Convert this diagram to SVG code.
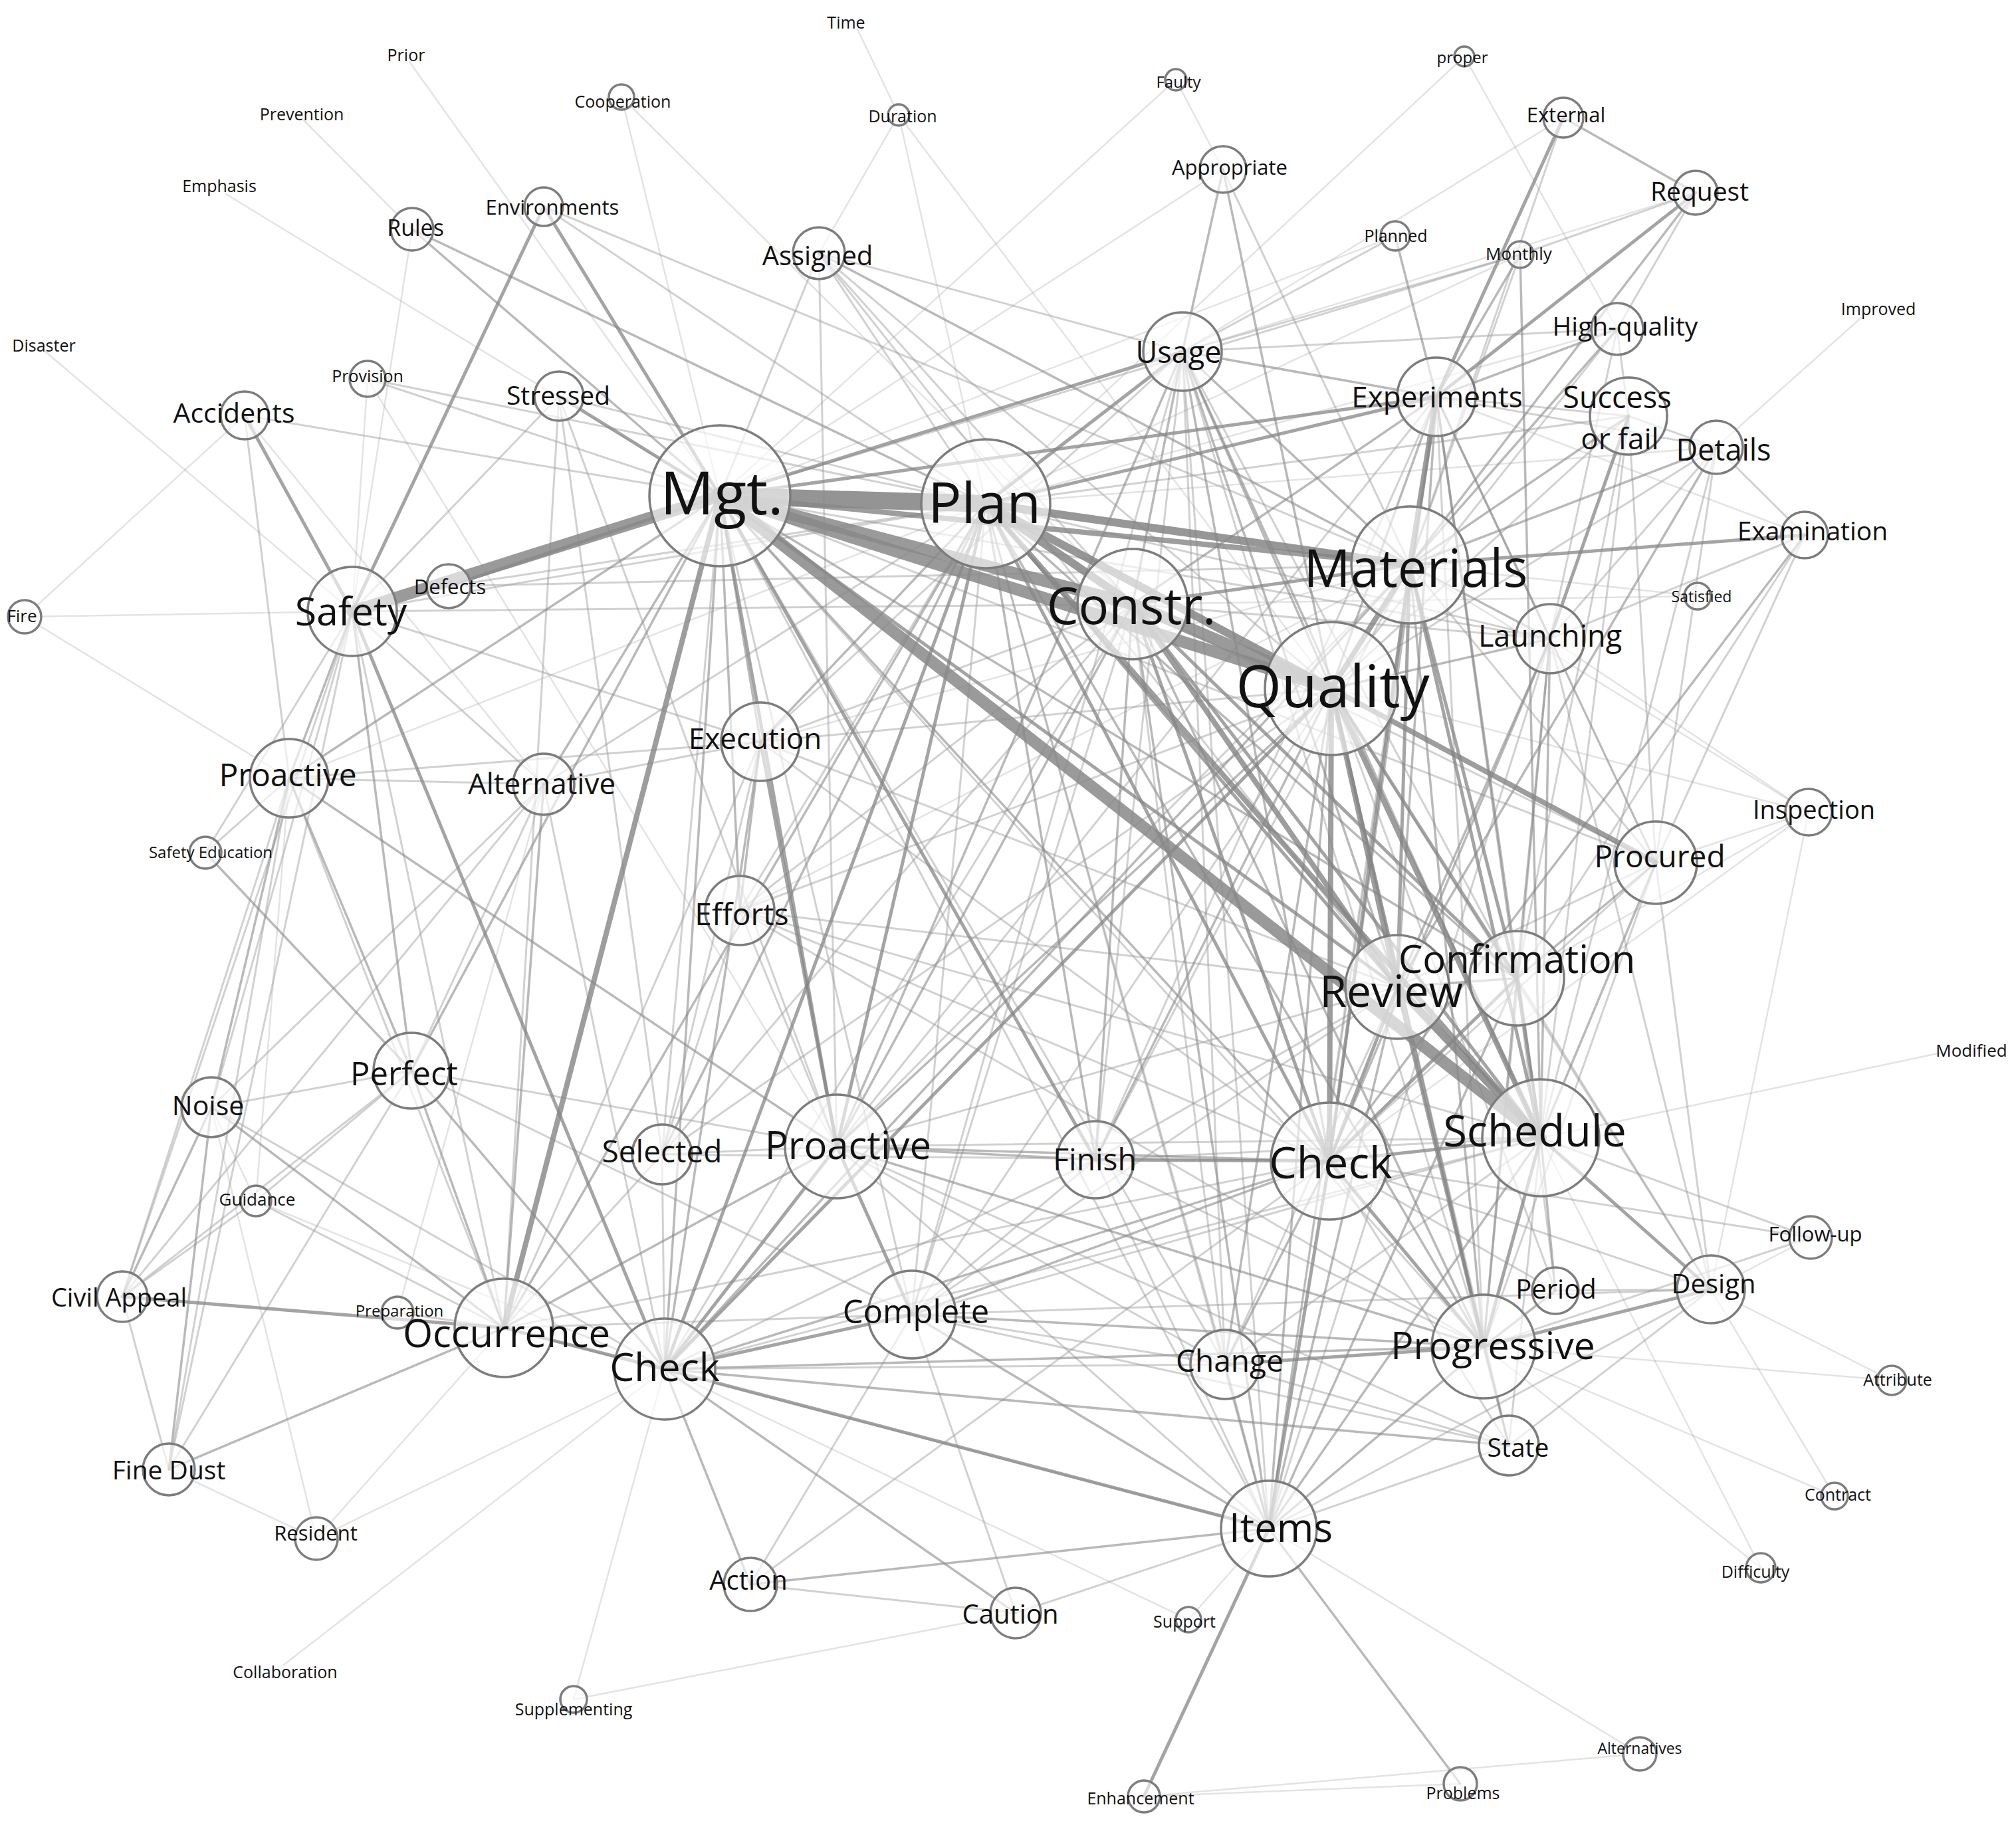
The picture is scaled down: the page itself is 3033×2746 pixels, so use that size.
<svg xmlns="http://www.w3.org/2000/svg" width="3033" height="2746" viewBox="0 0 3033 2746">
<style>
.bg{fill:#fff}
#edges line{stroke-linecap:round}
.c1{stroke:#9a9a9a;stroke-opacity:.28;stroke-width:2.5}
.c2{stroke:#9a9a9a;stroke-opacity:.45;stroke-width:3}
.c3{stroke:#8a8a8a;stroke-opacity:.6;stroke-width:3.5}
.c4{stroke:#858585;stroke-opacity:.75;stroke-width:5}
.c5{stroke:#858585;stroke-opacity:.8;stroke-width:8}
.c6{stroke:#858585;stroke-opacity:.85;stroke-width:12}
.c7{stroke:#888;stroke-opacity:.85;stroke-width:18}
.c8{stroke:#888;stroke-opacity:.9;stroke-width:26}
.node circle{fill:#fff;fill-opacity:.62;stroke:#7d7d7d;stroke-width:3.5}
.node text{font-family:"Open Sans","DejaVu Sans",sans-serif;fill:#111;text-anchor:middle;dominant-baseline:central}
</style>
<rect class="bg" x="0" y="0" width="3033" height="2746"/>
<g id="edges">
<line class="c1" x1="1083" y1="746" x2="935" y2="146"/>
<line class="c1" x1="1083" y1="746" x2="616" y2="93"/>
<line class="c1" x1="1083" y1="746" x2="340" y2="292"/>
<line class="c1" x1="1083" y1="746" x2="1769" y2="120"/>
<line class="c1" x1="1083" y1="746" x2="1840" y2="255"/>
<line class="c1" x1="1083" y1="746" x2="2099" y2="355"/>
<line class="c1" x1="1483" y1="758" x2="1352" y2="173"/>
<line class="c1" x1="1483" y1="758" x2="2203" y2="85"/>
<line class="c1" x1="1483" y1="758" x2="2287" y2="383"/>
<line class="c1" x1="1483" y1="758" x2="2582" y2="673"/>
<line class="c1" x1="1483" y1="758" x2="2433" y2="495"/>
<line class="c1" x1="1483" y1="758" x2="435" y2="1171"/>
<line class="c1" x1="1704" y1="909" x2="935" y2="146"/>
<line class="c1" x1="1704" y1="909" x2="2554" y2="897"/>
<line class="c1" x1="2121" y1="850" x2="2721" y2="1222"/>
<line class="c1" x1="2121" y1="850" x2="1144" y2="1116"/>
<line class="c1" x1="2121" y1="850" x2="1113" y2="1370"/>
<line class="c1" x1="2003" y1="1036" x2="1352" y2="173"/>
<line class="c1" x1="2003" y1="1036" x2="2721" y2="1222"/>
<line class="c1" x1="2282" y1="1472" x2="2721" y2="1222"/>
<line class="c1" x1="2318" y1="1712" x2="2925" y2="1583"/>
<line class="c1" x1="2318" y1="1712" x2="2649" y2="2359"/>
<line class="c1" x1="2000" y1="1747" x2="2721" y2="1222"/>
<line class="c1" x1="1259" y1="1725" x2="553" y2="570"/>
<line class="c1" x1="1000" y1="2060" x2="863" y2="2557"/>
<line class="c1" x1="1000" y1="2060" x2="427" y2="2505"/>
<line class="c1" x1="1000" y1="2060" x2="476" y2="2315"/>
<line class="c1" x1="1000" y1="2060" x2="1788" y2="2437"/>
<line class="c1" x1="1000" y1="2060" x2="385" y2="1807"/>
<line class="c1" x1="758" y1="1998" x2="476" y2="2315"/>
<line class="c1" x1="2232" y1="2026" x2="2846" y2="2077"/>
<line class="c1" x1="2232" y1="2026" x2="2760" y2="2251"/>
<line class="c1" x1="2232" y1="2026" x2="2649" y2="2359"/>
<line class="c1" x1="1909" y1="2300" x2="2467" y2="2639"/>
<line class="c1" x1="1909" y1="2300" x2="1788" y2="2437"/>
<line class="c1" x1="1721" y1="2703" x2="2197" y2="2684"/>
<line class="c1" x1="1721" y1="2703" x2="2467" y2="2639"/>
<line class="c1" x1="1528" y1="2427" x2="863" y2="2557"/>
<line class="c1" x1="2574" y1="1940" x2="2724" y2="1862"/>
<line class="c1" x1="2574" y1="1940" x2="2846" y2="2077"/>
<line class="c1" x1="2574" y1="1940" x2="2760" y2="2251"/>
<line class="c1" x1="2574" y1="1940" x2="2721" y2="1222"/>
<line class="c1" x1="2721" y1="1222" x2="2491" y2="1298"/>
<line class="c1" x1="2721" y1="1222" x2="2332" y2="961"/>
<line class="c1" x1="2554" y1="897" x2="2121" y2="850"/>
<line class="c1" x1="2582" y1="673" x2="2800" y2="478"/>
<line class="c1" x1="2715" y1="805" x2="2161" y2="597"/>
<line class="c1" x1="2433" y1="495" x2="2203" y2="85"/>
<line class="c1" x1="2551" y1="290" x2="1779" y2="529"/>
<line class="c1" x1="2352" y1="177" x2="1779" y2="529"/>
<line class="c1" x1="1840" y1="255" x2="1769" y2="120"/>
<line class="c1" x1="1352" y1="173" x2="1290" y2="44"/>
<line class="c1" x1="1352" y1="173" x2="1232" y2="381"/>
<line class="c1" x1="620" y1="345" x2="530" y2="920"/>
<line class="c1" x1="620" y1="345" x2="457" y2="181"/>
<line class="c1" x1="553" y1="570" x2="530" y2="920"/>
<line class="c1" x1="368" y1="625" x2="37" y2="928"/>
<line class="c1" x1="368" y1="625" x2="818" y2="1180"/>
<line class="c1" x1="68" y1="529" x2="530" y2="920"/>
<line class="c1" x1="37" y1="928" x2="530" y2="920"/>
<line class="c1" x1="37" y1="928" x2="435" y2="1171"/>
<line class="c1" x1="435" y1="1171" x2="385" y2="1807"/>
<line class="c1" x1="818" y1="1180" x2="598" y2="1975"/>
<line class="c1" x1="318" y1="1666" x2="476" y2="2315"/>
<line class="c1" x1="318" y1="1666" x2="385" y2="1807"/>
<line class="c1" x1="254" y1="2211" x2="476" y2="2315"/>
<line class="c2" x1="1083" y1="746" x2="996" y2="1737"/>
<line class="c2" x1="1083" y1="746" x2="1232" y2="381"/>
<line class="c2" x1="1083" y1="746" x2="2287" y2="383"/>
<line class="c2" x1="1083" y1="746" x2="553" y2="570"/>
<line class="c2" x1="1083" y1="746" x2="368" y2="625"/>
<line class="c2" x1="1083" y1="746" x2="2232" y2="2026"/>
<line class="c2" x1="1083" y1="746" x2="1909" y2="2300"/>
<line class="c2" x1="1083" y1="746" x2="1372" y2="1978"/>
<line class="c2" x1="1083" y1="746" x2="1843" y2="2053"/>
<line class="c2" x1="1083" y1="746" x2="2332" y2="961"/>
<line class="c2" x1="1083" y1="746" x2="2491" y2="1298"/>
<line class="c2" x1="1483" y1="758" x2="1113" y2="1370"/>
<line class="c2" x1="1483" y1="758" x2="1232" y2="381"/>
<line class="c2" x1="1483" y1="758" x2="841" y2="596"/>
<line class="c2" x1="1483" y1="758" x2="818" y2="311"/>
<line class="c2" x1="1483" y1="758" x2="1909" y2="2300"/>
<line class="c2" x1="1483" y1="758" x2="1372" y2="1978"/>
<line class="c2" x1="1483" y1="758" x2="2332" y2="961"/>
<line class="c2" x1="1483" y1="758" x2="2450" y2="626"/>
<line class="c2" x1="1483" y1="758" x2="530" y2="920"/>
<line class="c2" x1="1483" y1="758" x2="818" y2="1180"/>
<line class="c2" x1="1483" y1="758" x2="1843" y2="2053"/>
<line class="c2" x1="1483" y1="758" x2="553" y2="570"/>
<line class="c2" x1="1704" y1="909" x2="996" y2="1737"/>
<line class="c2" x1="1704" y1="909" x2="1000" y2="2060"/>
<line class="c2" x1="1704" y1="909" x2="1843" y2="2053"/>
<line class="c2" x1="1704" y1="909" x2="1372" y2="1978"/>
<line class="c2" x1="1704" y1="909" x2="2332" y2="961"/>
<line class="c2" x1="1704" y1="909" x2="2491" y2="1298"/>
<line class="c2" x1="1704" y1="909" x2="530" y2="920"/>
<line class="c2" x1="1704" y1="909" x2="1144" y2="1116"/>
<line class="c2" x1="1704" y1="909" x2="1113" y2="1370"/>
<line class="c2" x1="1704" y1="909" x2="1232" y2="381"/>
<line class="c2" x1="2121" y1="850" x2="2352" y2="177"/>
<line class="c2" x1="2121" y1="850" x2="1840" y2="255"/>
<line class="c2" x1="2121" y1="850" x2="2491" y2="1298"/>
<line class="c2" x1="2121" y1="850" x2="1909" y2="2300"/>
<line class="c2" x1="2121" y1="850" x2="1648" y2="1745"/>
<line class="c2" x1="2121" y1="850" x2="1259" y2="1725"/>
<line class="c2" x1="2121" y1="850" x2="2287" y2="383"/>
<line class="c2" x1="2003" y1="1036" x2="1372" y2="1978"/>
<line class="c2" x1="2003" y1="1036" x2="2433" y2="495"/>
<line class="c2" x1="2003" y1="1036" x2="2450" y2="626"/>
<line class="c2" x1="2003" y1="1036" x2="2582" y2="673"/>
<line class="c2" x1="2003" y1="1036" x2="1113" y2="1370"/>
<line class="c2" x1="2003" y1="1036" x2="1144" y2="1116"/>
<line class="c2" x1="2003" y1="1036" x2="996" y2="1737"/>
<line class="c2" x1="2003" y1="1036" x2="2574" y2="1940"/>
<line class="c2" x1="2003" y1="1036" x2="2270" y2="2175"/>
<line class="c2" x1="2003" y1="1036" x2="2340" y2="1942"/>
<line class="c2" x1="2102" y1="1485" x2="2491" y2="1298"/>
<line class="c2" x1="2102" y1="1485" x2="1648" y2="1745"/>
<line class="c2" x1="2102" y1="1485" x2="1259" y2="1725"/>
<line class="c2" x1="2102" y1="1485" x2="1144" y2="1116"/>
<line class="c2" x1="2102" y1="1485" x2="1113" y2="1370"/>
<line class="c2" x1="2102" y1="1485" x2="1843" y2="2053"/>
<line class="c2" x1="2102" y1="1485" x2="2270" y2="2175"/>
<line class="c2" x1="2102" y1="1485" x2="1372" y2="1978"/>
<line class="c2" x1="2282" y1="1472" x2="2450" y2="626"/>
<line class="c2" x1="2282" y1="1472" x2="2574" y2="1940"/>
<line class="c2" x1="2282" y1="1472" x2="2340" y2="1942"/>
<line class="c2" x1="2282" y1="1472" x2="1779" y2="529"/>
<line class="c2" x1="2282" y1="1472" x2="2715" y2="805"/>
<line class="c2" x1="2318" y1="1712" x2="2724" y2="1862"/>
<line class="c2" x1="2318" y1="1712" x2="2450" y2="626"/>
<line class="c2" x1="2318" y1="1712" x2="2270" y2="2175"/>
<line class="c2" x1="2318" y1="1712" x2="1648" y2="1745"/>
<line class="c2" x1="2318" y1="1712" x2="1259" y2="1725"/>
<line class="c2" x1="2318" y1="1712" x2="1372" y2="1978"/>
<line class="c2" x1="2318" y1="1712" x2="1843" y2="2053"/>
<line class="c2" x1="2318" y1="1712" x2="1000" y2="2060"/>
<line class="c2" x1="2318" y1="1712" x2="2582" y2="673"/>
<line class="c2" x1="2000" y1="1747" x2="2574" y2="1940"/>
<line class="c2" x1="2000" y1="1747" x2="2724" y2="1862"/>
<line class="c2" x1="2000" y1="1747" x2="2270" y2="2175"/>
<line class="c2" x1="2000" y1="1747" x2="2340" y2="1942"/>
<line class="c2" x1="2000" y1="1747" x2="2491" y2="1298"/>
<line class="c2" x1="2000" y1="1747" x2="996" y2="1737"/>
<line class="c2" x1="2000" y1="1747" x2="758" y2="1998"/>
<line class="c2" x1="2000" y1="1747" x2="1144" y2="1116"/>
<line class="c2" x1="2000" y1="1747" x2="1129" y2="2384"/>
<line class="c2" x1="1648" y1="1745" x2="1779" y2="529"/>
<line class="c2" x1="1648" y1="1745" x2="2161" y2="597"/>
<line class="c2" x1="1648" y1="1745" x2="1000" y2="2060"/>
<line class="c2" x1="1648" y1="1745" x2="1372" y2="1978"/>
<line class="c2" x1="1648" y1="1745" x2="1909" y2="2300"/>
<line class="c2" x1="1648" y1="1745" x2="2232" y2="2026"/>
<line class="c2" x1="1259" y1="1725" x2="996" y2="1737"/>
<line class="c2" x1="1259" y1="1725" x2="1113" y2="1370"/>
<line class="c2" x1="1259" y1="1725" x2="1909" y2="2300"/>
<line class="c2" x1="1259" y1="1725" x2="2161" y2="597"/>
<line class="c2" x1="1259" y1="1725" x2="841" y2="596"/>
<line class="c2" x1="1259" y1="1725" x2="1232" y2="381"/>
<line class="c2" x1="1259" y1="1725" x2="1843" y2="2053"/>
<line class="c2" x1="1259" y1="1725" x2="2270" y2="2175"/>
<line class="c2" x1="1259" y1="1725" x2="619" y2="1611"/>
<line class="c2" x1="1372" y1="1978" x2="1843" y2="2053"/>
<line class="c2" x1="1372" y1="1978" x2="2270" y2="2175"/>
<line class="c2" x1="1372" y1="1978" x2="1528" y2="2427"/>
<line class="c2" x1="1372" y1="1978" x2="1129" y2="2384"/>
<line class="c2" x1="1372" y1="1978" x2="758" y2="1998"/>
<line class="c2" x1="1372" y1="1978" x2="1779" y2="529"/>
<line class="c2" x1="1372" y1="1978" x2="2574" y2="1940"/>
<line class="c2" x1="1372" y1="1978" x2="619" y2="1611"/>
<line class="c2" x1="1000" y1="2060" x2="818" y2="1180"/>
<line class="c2" x1="1000" y1="2060" x2="996" y2="1737"/>
<line class="c2" x1="1000" y1="2060" x2="1843" y2="2053"/>
<line class="c2" x1="1000" y1="2060" x2="318" y2="1666"/>
<line class="c2" x1="758" y1="1998" x2="598" y2="1975"/>
<line class="c2" x1="758" y1="1998" x2="841" y2="596"/>
<line class="c2" x1="758" y1="1998" x2="530" y2="920"/>
<line class="c2" x1="758" y1="1998" x2="435" y2="1171"/>
<line class="c2" x1="758" y1="1998" x2="385" y2="1807"/>
<line class="c2" x1="758" y1="1998" x2="1144" y2="1116"/>
<line class="c2" x1="758" y1="1998" x2="996" y2="1737"/>
<line class="c2" x1="758" y1="1998" x2="1909" y2="2300"/>
<line class="c2" x1="1843" y1="2053" x2="1779" y2="529"/>
<line class="c2" x1="1843" y1="2053" x2="2270" y2="2175"/>
<line class="c2" x1="2232" y1="2026" x2="2724" y2="1862"/>
<line class="c2" x1="2232" y1="2026" x2="2491" y2="1298"/>
<line class="c2" x1="2232" y1="2026" x2="2332" y2="961"/>
<line class="c2" x1="2232" y1="2026" x2="2161" y2="597"/>
<line class="c2" x1="2232" y1="2026" x2="1779" y2="529"/>
<line class="c2" x1="1909" y1="2300" x2="2270" y2="2175"/>
<line class="c2" x1="1909" y1="2300" x2="1528" y2="2427"/>
<line class="c2" x1="1909" y1="2300" x2="2574" y2="1940"/>
<line class="c2" x1="1909" y1="2300" x2="1779" y2="529"/>
<line class="c2" x1="1909" y1="2300" x2="2161" y2="597"/>
<line class="c2" x1="1909" y1="2300" x2="2332" y2="961"/>
<line class="c2" x1="1528" y1="2427" x2="1129" y2="2384"/>
<line class="c2" x1="2574" y1="1940" x2="2340" y2="1942"/>
<line class="c2" x1="2574" y1="1940" x2="2270" y2="2175"/>
<line class="c2" x1="2574" y1="1940" x2="2332" y2="961"/>
<line class="c2" x1="2574" y1="1940" x2="2491" y2="1298"/>
<line class="c2" x1="2491" y1="1298" x2="2332" y2="961"/>
<line class="c2" x1="2491" y1="1298" x2="2450" y2="626"/>
<line class="c2" x1="2491" y1="1298" x2="2582" y2="673"/>
<line class="c2" x1="2491" y1="1298" x2="2715" y2="805"/>
<line class="c2" x1="2491" y1="1298" x2="2161" y2="597"/>
<line class="c2" x1="2332" y1="961" x2="2715" y2="805"/>
<line class="c2" x1="2332" y1="961" x2="2582" y2="673"/>
<line class="c2" x1="2332" y1="961" x2="2433" y2="495"/>
<line class="c2" x1="2715" y1="805" x2="2582" y2="673"/>
<line class="c2" x1="2582" y1="673" x2="2161" y2="597"/>
<line class="c2" x1="2582" y1="673" x2="2450" y2="626"/>
<line class="c2" x1="2450" y1="626" x2="2161" y2="597"/>
<line class="c2" x1="2450" y1="626" x2="2433" y2="495"/>
<line class="c2" x1="2433" y1="495" x2="2551" y2="290"/>
<line class="c2" x1="2433" y1="495" x2="1779" y2="529"/>
<line class="c2" x1="2551" y1="290" x2="2287" y2="383"/>
<line class="c2" x1="2287" y1="383" x2="1779" y2="529"/>
<line class="c2" x1="2099" y1="355" x2="1779" y2="529"/>
<line class="c2" x1="1779" y1="529" x2="1232" y2="381"/>
<line class="c2" x1="1232" y1="381" x2="2003" y2="1036"/>
<line class="c2" x1="1232" y1="381" x2="2102" y2="1485"/>
<line class="c2" x1="818" y1="311" x2="2121" y2="850"/>
<line class="c2" x1="841" y1="596" x2="996" y2="1737"/>
<line class="c2" x1="841" y1="596" x2="530" y2="920"/>
<line class="c2" x1="368" y1="625" x2="435" y2="1171"/>
<line class="c2" x1="530" y1="920" x2="318" y2="1666"/>
<line class="c2" x1="530" y1="920" x2="184" y2="1951"/>
<line class="c2" x1="530" y1="920" x2="254" y2="2211"/>
<line class="c2" x1="530" y1="920" x2="309" y2="1283"/>
<line class="c2" x1="530" y1="920" x2="1144" y2="1116"/>
<line class="c2" x1="530" y1="920" x2="818" y2="1180"/>
<line class="c2" x1="675" y1="882" x2="2121" y2="850"/>
<line class="c2" x1="675" y1="882" x2="1483" y2="758"/>
<line class="c2" x1="435" y1="1171" x2="184" y2="1951"/>
<line class="c2" x1="435" y1="1171" x2="254" y2="2211"/>
<line class="c2" x1="435" y1="1171" x2="309" y2="1283"/>
<line class="c2" x1="435" y1="1171" x2="818" y2="1180"/>
<line class="c2" x1="435" y1="1171" x2="1144" y2="1116"/>
<line class="c2" x1="818" y1="1180" x2="619" y2="1611"/>
<line class="c2" x1="818" y1="1180" x2="1144" y2="1116"/>
<line class="c2" x1="818" y1="1180" x2="318" y2="1666"/>
<line class="c2" x1="818" y1="1180" x2="184" y2="1951"/>
<line class="c2" x1="1144" y1="1116" x2="1779" y2="529"/>
<line class="c2" x1="1144" y1="1116" x2="996" y2="1737"/>
<line class="c2" x1="1113" y1="1370" x2="996" y2="1737"/>
<line class="c2" x1="1113" y1="1370" x2="2318" y2="1712"/>
<line class="c2" x1="1113" y1="1370" x2="2000" y2="1747"/>
<line class="c2" x1="1113" y1="1370" x2="2232" y2="2026"/>
<line class="c2" x1="619" y1="1611" x2="318" y2="1666"/>
<line class="c2" x1="619" y1="1611" x2="385" y2="1807"/>
<line class="c2" x1="619" y1="1611" x2="254" y2="2211"/>
<line class="c2" x1="619" y1="1611" x2="184" y2="1951"/>
<line class="c2" x1="184" y1="1951" x2="254" y2="2211"/>
<line class="c2" x1="184" y1="1951" x2="385" y2="1807"/>
<line class="c3" x1="1083" y1="746" x2="1000" y2="2060"/>
<line class="c3" x1="1083" y1="746" x2="1144" y2="1116"/>
<line class="c3" x1="1083" y1="746" x2="1113" y2="1370"/>
<line class="c3" x1="1083" y1="746" x2="818" y2="1180"/>
<line class="c3" x1="1083" y1="746" x2="435" y2="1171"/>
<line class="c3" x1="1083" y1="746" x2="620" y2="345"/>
<line class="c3" x1="1083" y1="746" x2="2000" y2="1747"/>
<line class="c3" x1="1083" y1="746" x2="2282" y2="1472"/>
<line class="c3" x1="1083" y1="746" x2="619" y2="1611"/>
<line class="c3" x1="1483" y1="758" x2="2282" y2="1472"/>
<line class="c3" x1="1483" y1="758" x2="996" y2="1737"/>
<line class="c3" x1="1483" y1="758" x2="758" y2="1998"/>
<line class="c3" x1="1483" y1="758" x2="1648" y2="1745"/>
<line class="c3" x1="1483" y1="758" x2="1144" y2="1116"/>
<line class="c3" x1="1483" y1="758" x2="2232" y2="2026"/>
<line class="c3" x1="1483" y1="758" x2="620" y2="345"/>
<line class="c3" x1="1704" y1="909" x2="2232" y2="2026"/>
<line class="c3" x1="1704" y1="909" x2="1648" y2="1745"/>
<line class="c3" x1="1704" y1="909" x2="1909" y2="2300"/>
<line class="c3" x1="1704" y1="909" x2="1779" y2="529"/>
<line class="c3" x1="1704" y1="909" x2="2161" y2="597"/>
<line class="c3" x1="1704" y1="909" x2="1259" y2="1725"/>
<line class="c3" x1="2121" y1="850" x2="2232" y2="2026"/>
<line class="c3" x1="2121" y1="850" x2="1779" y2="529"/>
<line class="c3" x1="2121" y1="850" x2="2332" y2="961"/>
<line class="c3" x1="2121" y1="850" x2="2582" y2="673"/>
<line class="c3" x1="2121" y1="850" x2="2450" y2="626"/>
<line class="c3" x1="2121" y1="850" x2="2433" y2="495"/>
<line class="c3" x1="2121" y1="850" x2="2551" y2="290"/>
<line class="c3" x1="2003" y1="1036" x2="1909" y2="2300"/>
<line class="c3" x1="2003" y1="1036" x2="1843" y2="2053"/>
<line class="c3" x1="2003" y1="1036" x2="1648" y2="1745"/>
<line class="c3" x1="2003" y1="1036" x2="1259" y2="1725"/>
<line class="c3" x1="2003" y1="1036" x2="2332" y2="961"/>
<line class="c3" x1="2003" y1="1036" x2="1840" y2="255"/>
<line class="c3" x1="2003" y1="1036" x2="1779" y2="529"/>
<line class="c3" x1="2003" y1="1036" x2="2161" y2="597"/>
<line class="c3" x1="2102" y1="1485" x2="2282" y2="1472"/>
<line class="c3" x1="2102" y1="1485" x2="1909" y2="2300"/>
<line class="c3" x1="2102" y1="1485" x2="2582" y2="673"/>
<line class="c3" x1="2102" y1="1485" x2="1779" y2="529"/>
<line class="c3" x1="2102" y1="1485" x2="2161" y2="597"/>
<line class="c3" x1="2102" y1="1485" x2="2332" y2="961"/>
<line class="c3" x1="2282" y1="1472" x2="2232" y2="2026"/>
<line class="c3" x1="2282" y1="1472" x2="1909" y2="2300"/>
<line class="c3" x1="2282" y1="1472" x2="2332" y2="961"/>
<line class="c3" x1="2282" y1="1472" x2="2491" y2="1298"/>
<line class="c3" x1="2282" y1="1472" x2="2161" y2="597"/>
<line class="c3" x1="2318" y1="1712" x2="2340" y2="1942"/>
<line class="c3" x1="2318" y1="1712" x2="1909" y2="2300"/>
<line class="c3" x1="2318" y1="1712" x2="2332" y2="961"/>
<line class="c3" x1="2318" y1="1712" x2="2491" y2="1298"/>
<line class="c3" x1="2318" y1="1712" x2="2161" y2="597"/>
<line class="c3" x1="2318" y1="1712" x2="2287" y2="383"/>
<line class="c3" x1="2318" y1="1712" x2="1779" y2="529"/>
<line class="c3" x1="2000" y1="1747" x2="1259" y2="1725"/>
<line class="c3" x1="2000" y1="1747" x2="1372" y2="1978"/>
<line class="c3" x1="2000" y1="1747" x2="1000" y2="2060"/>
<line class="c3" x1="2000" y1="1747" x2="1843" y2="2053"/>
<line class="c3" x1="2000" y1="1747" x2="2332" y2="961"/>
<line class="c3" x1="2000" y1="1747" x2="2715" y2="805"/>
<line class="c3" x1="2000" y1="1747" x2="1779" y2="529"/>
<line class="c3" x1="2000" y1="1747" x2="2161" y2="597"/>
<line class="c3" x1="1648" y1="1745" x2="1259" y2="1725"/>
<line class="c3" x1="1259" y1="1725" x2="435" y2="1171"/>
<line class="c3" x1="1259" y1="1725" x2="2232" y2="2026"/>
<line class="c3" x1="1259" y1="1725" x2="758" y2="1998"/>
<line class="c3" x1="1259" y1="1725" x2="1779" y2="529"/>
<line class="c3" x1="1372" y1="1978" x2="2232" y2="2026"/>
<line class="c3" x1="1372" y1="1978" x2="1909" y2="2300"/>
<line class="c3" x1="1000" y1="2060" x2="2270" y2="2175"/>
<line class="c3" x1="1000" y1="2060" x2="2232" y2="2026"/>
<line class="c3" x1="1000" y1="2060" x2="1129" y2="2384"/>
<line class="c3" x1="1000" y1="2060" x2="1528" y2="2427"/>
<line class="c3" x1="1000" y1="2060" x2="619" y2="1611"/>
<line class="c3" x1="1000" y1="2060" x2="1144" y2="1116"/>
<line class="c3" x1="1000" y1="2060" x2="2121" y2="850"/>
<line class="c3" x1="758" y1="1998" x2="318" y2="1666"/>
<line class="c3" x1="758" y1="1998" x2="619" y2="1611"/>
<line class="c3" x1="758" y1="1998" x2="818" y2="1180"/>
<line class="c3" x1="758" y1="1998" x2="254" y2="2211"/>
<line class="c3" x1="1843" y1="2053" x2="1909" y2="2300"/>
<line class="c3" x1="2232" y1="2026" x2="2270" y2="2175"/>
<line class="c3" x1="2232" y1="2026" x2="1909" y2="2300"/>
<line class="c3" x1="2232" y1="2026" x2="2340" y2="1942"/>
<line class="c3" x1="1909" y1="2300" x2="2197" y2="2684"/>
<line class="c3" x1="1909" y1="2300" x2="1129" y2="2384"/>
<line class="c3" x1="2332" y1="961" x2="2161" y2="597"/>
<line class="c3" x1="2433" y1="495" x2="2161" y2="597"/>
<line class="c3" x1="2161" y1="597" x2="2099" y2="355"/>
<line class="c3" x1="2161" y1="597" x2="2287" y2="383"/>
<line class="c3" x1="2161" y1="597" x2="1779" y2="529"/>
<line class="c3" x1="2551" y1="290" x2="2352" y2="177"/>
<line class="c3" x1="1779" y1="529" x2="1840" y2="255"/>
<line class="c3" x1="1232" y1="381" x2="2121" y2="850"/>
<line class="c3" x1="530" y1="920" x2="435" y2="1171"/>
<line class="c3" x1="530" y1="920" x2="619" y2="1611"/>
<line class="c3" x1="435" y1="1171" x2="619" y2="1611"/>
<line class="c3" x1="435" y1="1171" x2="318" y2="1666"/>
<line class="c3" x1="309" y1="1283" x2="619" y2="1611"/>
<line class="c3" x1="1144" y1="1116" x2="1113" y2="1370"/>
<line class="c3" x1="318" y1="1666" x2="254" y2="2211"/>
<line class="c3" x1="318" y1="1666" x2="184" y2="1951"/>
<line class="c4" x1="1083" y1="746" x2="2102" y2="1485"/>
<line class="c4" x1="1083" y1="746" x2="675" y2="882"/>
<line class="c4" x1="1083" y1="746" x2="1259" y2="1725"/>
<line class="c4" x1="1083" y1="746" x2="1648" y2="1745"/>
<line class="c4" x1="1083" y1="746" x2="841" y2="596"/>
<line class="c4" x1="1083" y1="746" x2="818" y2="311"/>
<line class="c4" x1="1083" y1="746" x2="1779" y2="529"/>
<line class="c4" x1="1083" y1="746" x2="2161" y2="597"/>
<line class="c4" x1="1483" y1="758" x2="1779" y2="529"/>
<line class="c4" x1="1483" y1="758" x2="2161" y2="597"/>
<line class="c4" x1="1483" y1="758" x2="2102" y2="1485"/>
<line class="c4" x1="1483" y1="758" x2="2000" y2="1747"/>
<line class="c4" x1="1483" y1="758" x2="1000" y2="2060"/>
<line class="c4" x1="1483" y1="758" x2="1259" y2="1725"/>
<line class="c4" x1="1704" y1="909" x2="2121" y2="850"/>
<line class="c4" x1="1704" y1="909" x2="2318" y2="1712"/>
<line class="c4" x1="1704" y1="909" x2="2000" y2="1747"/>
<line class="c4" x1="1704" y1="909" x2="2282" y2="1472"/>
<line class="c4" x1="2121" y1="850" x2="2000" y2="1747"/>
<line class="c4" x1="2121" y1="850" x2="2318" y2="1712"/>
<line class="c4" x1="2121" y1="850" x2="2282" y2="1472"/>
<line class="c4" x1="2121" y1="850" x2="2102" y2="1485"/>
<line class="c4" x1="2121" y1="850" x2="2715" y2="805"/>
<line class="c4" x1="2003" y1="1036" x2="2282" y2="1472"/>
<line class="c4" x1="2003" y1="1036" x2="2232" y2="2026"/>
<line class="c4" x1="2003" y1="1036" x2="1000" y2="2060"/>
<line class="c4" x1="2102" y1="1485" x2="2000" y2="1747"/>
<line class="c4" x1="2102" y1="1485" x2="2232" y2="2026"/>
<line class="c4" x1="2282" y1="1472" x2="2318" y2="1712"/>
<line class="c4" x1="2282" y1="1472" x2="2000" y2="1747"/>
<line class="c4" x1="2318" y1="1712" x2="2000" y2="1747"/>
<line class="c4" x1="2318" y1="1712" x2="2232" y2="2026"/>
<line class="c4" x1="2318" y1="1712" x2="2574" y2="1940"/>
<line class="c4" x1="2000" y1="1747" x2="1648" y2="1745"/>
<line class="c4" x1="2000" y1="1747" x2="1909" y2="2300"/>
<line class="c4" x1="2000" y1="1747" x2="2232" y2="2026"/>
<line class="c4" x1="1259" y1="1725" x2="1372" y2="1978"/>
<line class="c4" x1="1259" y1="1725" x2="1000" y2="2060"/>
<line class="c4" x1="1259" y1="1725" x2="1144" y2="1116"/>
<line class="c4" x1="1372" y1="1978" x2="1000" y2="2060"/>
<line class="c4" x1="1000" y1="2060" x2="758" y2="1998"/>
<line class="c4" x1="1000" y1="2060" x2="1909" y2="2300"/>
<line class="c4" x1="1000" y1="2060" x2="530" y2="920"/>
<line class="c4" x1="758" y1="1998" x2="184" y2="1951"/>
<line class="c4" x1="1843" y1="2053" x2="2232" y2="2026"/>
<line class="c4" x1="2232" y1="2026" x2="2574" y2="1940"/>
<line class="c4" x1="1909" y1="2300" x2="1721" y2="2703"/>
<line class="c4" x1="2332" y1="961" x2="2450" y2="626"/>
<line class="c4" x1="2161" y1="597" x2="2352" y2="177"/>
<line class="c4" x1="2161" y1="597" x2="2551" y2="290"/>
<line class="c4" x1="818" y1="311" x2="530" y2="920"/>
<line class="c4" x1="368" y1="625" x2="530" y2="920"/>
<line class="c5" x1="1083" y1="746" x2="2121" y2="850"/>
<line class="c5" x1="1083" y1="746" x2="758" y2="1998"/>
<line class="c5" x1="1483" y1="758" x2="2318" y2="1712"/>
<line class="c5" x1="1704" y1="909" x2="2102" y2="1485"/>
<line class="c5" x1="2121" y1="850" x2="2003" y2="1036"/>
<line class="c5" x1="2121" y1="850" x2="2161" y2="597"/>
<line class="c5" x1="2003" y1="1036" x2="2000" y2="1747"/>
<line class="c5" x1="2003" y1="1036" x2="2102" y2="1485"/>
<line class="c5" x1="2003" y1="1036" x2="2318" y2="1712"/>
<line class="c5" x1="2003" y1="1036" x2="2491" y2="1298"/>
<line class="c6" x1="1483" y1="758" x2="1704" y2="909"/>
<line class="c6" x1="1483" y1="758" x2="2003" y2="1036"/>
<line class="c6" x1="1483" y1="758" x2="2121" y2="850"/>
<line class="c6" x1="2102" y1="1485" x2="2318" y2="1712"/>
<line class="c7" x1="1083" y1="746" x2="1704" y2="909"/>
<line class="c7" x1="1083" y1="746" x2="2003" y2="1036"/>
<line class="c7" x1="1083" y1="746" x2="2318" y2="1712"/>
<line class="c7" x1="1083" y1="746" x2="530" y2="920"/>
<line class="c7" x1="1704" y1="909" x2="2003" y2="1036"/>
<line class="c8" x1="1083" y1="746" x2="1483" y2="758"/>
</g>
<g id="nodes">
<g id="n-prior" class="node"><text x="611" y="82" font-size="25">Prior</text></g>
<g id="n-prevention" class="node"><text x="454" y="171" font-size="25">Prevention</text></g>
<g id="n-emphasis" class="node"><text x="330" y="279" font-size="25">Emphasis</text></g>
<g id="n-disaster" class="node"><text x="66" y="519" font-size="25">Disaster</text></g>
<g id="n-time" class="node"><text x="1273" y="33" font-size="25">Time</text></g>
<g id="n-improved" class="node"><text x="2826" y="464" font-size="25">Improved</text></g>
<g id="n-modified" class="node"><text x="2966" y="1580" font-size="26">Modified</text></g>
<g id="n-collaboration" class="node"><text x="429" y="2515" font-size="25">Collaboration</text></g>
<g id="n-mgt" class="node"><circle cx="1083" cy="746" r="106"/><text x="1086" y="739" font-size="90">Mgt.</text></g>
<g id="n-plan" class="node"><circle cx="1483" cy="758" r="97"/><text x="1481" y="754" font-size="84">Plan</text></g>
<g id="n-constr" class="node"><circle cx="1704" cy="909" r="83"/><text x="1702" y="909" font-size="76">Constr.</text></g>
<g id="n-materials" class="node"><circle cx="2121" cy="850" r="88"/><text x="2130" y="853" font-size="78">Materials</text></g>
<g id="n-quality" class="node"><circle cx="2003" cy="1036" r="100"/><text x="2005" y="1030" font-size="88">Quality</text></g>
<g id="n-review" class="node"><circle cx="2102" cy="1485" r="78"/><text x="2093" y="1489" font-size="66">Review</text></g>
<g id="n-confirmation" class="node"><circle cx="2282" cy="1472" r="71"/><text x="2282" y="1441" font-size="58">Confirmation</text></g>
<g id="n-schedule" class="node"><circle cx="2318" cy="1712" r="88"/><text x="2309" y="1700" font-size="65">Schedule</text></g>
<g id="n-check-r" class="node"><circle cx="2000" cy="1747" r="88"/><text x="2002" y="1747" font-size="66">Check</text></g>
<g id="n-finish" class="node"><circle cx="1648" cy="1745" r="58"/><text x="1647" y="1743" font-size="46">Finish</text></g>
<g id="n-proactive-m" class="node"><circle cx="1259" cy="1725" r="78"/><text x="1276" y="1721" font-size="58">Proactive</text></g>
<g id="n-selected" class="node"><circle cx="996" cy="1737" r="45"/><text x="996" y="1731" font-size="46">Selected</text></g>
<g id="n-complete" class="node"><circle cx="1372" cy="1978" r="66"/><text x="1378" y="1972" font-size="49">Complete</text></g>
<g id="n-check-l" class="node"><circle cx="1000" cy="2060" r="76"/><text x="1000" y="2055" font-size="59">Check</text></g>
<g id="n-preparation" class="node"><circle cx="598" cy="1975" r="24"/><text x="601" y="1971" font-size="24">Preparation</text></g>
<g id="n-occurrence" class="node"><circle cx="758" cy="1998" r="74"/><text x="762" y="2004" font-size="58">Occurrence</text></g>
<g id="n-change" class="node"><circle cx="1843" cy="2053" r="52"/><text x="1850" y="2046" font-size="46">Change</text></g>
<g id="n-progressive" class="node"><circle cx="2232" cy="2026" r="78"/><text x="2246" y="2023" font-size="57">Progressive</text></g>
<g id="n-period" class="node"><circle cx="2340" cy="1942" r="35"/><text x="2341" y="1938" font-size="40">Period</text></g>
<g id="n-design" class="node"><circle cx="2574" cy="1940" r="51"/><text x="2578" y="1930" font-size="40">Design</text></g>
<g id="n-state" class="node"><circle cx="2270" cy="2175" r="45"/><text x="2284" y="2176" font-size="39">State</text></g>
<g id="n-items" class="node"><circle cx="1909" cy="2300" r="72"/><text x="1927" y="2297" font-size="60">Items</text></g>
<g id="n-action" class="node"><circle cx="1129" cy="2384" r="40"/><text x="1126" y="2376" font-size="40">Action</text></g>
<g id="n-caution" class="node"><circle cx="1528" cy="2427" r="38"/><text x="1520" y="2427" font-size="40">Caution</text></g>
<g id="n-support" class="node"><circle cx="1788" cy="2437" r="19"/><text x="1782" y="2439" font-size="25">Support</text></g>
<g id="n-enhancement" class="node"><circle cx="1721" cy="2703" r="24"/><text x="1716" y="2705" font-size="25">Enhancement</text></g>
<g id="n-problems" class="node"><circle cx="2197" cy="2684" r="25"/><text x="2201" y="2697" font-size="25">Problems</text></g>
<g id="n-alternatives" class="node"><circle cx="2467" cy="2639" r="25"/><text x="2467" y="2630" font-size="23">Alternatives</text></g>
<g id="n-difficulty" class="node"><circle cx="2649" cy="2359" r="22"/><text x="2641" y="2364" font-size="25">Difficulty</text></g>
<g id="n-contract" class="node"><circle cx="2760" cy="2251" r="20"/><text x="2765" y="2248" font-size="25">Contract</text></g>
<g id="n-attribute" class="node"><circle cx="2846" cy="2077" r="22"/><text x="2855" y="2075" font-size="25">Attribute</text></g>
<g id="n-followup" class="node"><circle cx="2724" cy="1862" r="32"/><text x="2731" y="1856" font-size="31">Follow-up</text></g>
<g id="n-inspection" class="node"><circle cx="2721" cy="1222" r="35"/><text x="2729" y="1217" font-size="38">Inspection</text></g>
<g id="n-procured" class="node"><circle cx="2491" cy="1298" r="62"/><text x="2497" y="1287" font-size="46">Procured</text></g>
<g id="n-examination" class="node"><circle cx="2715" cy="805" r="35"/><text x="2727" y="797" font-size="39">Examination</text></g>
<g id="n-satisfied" class="node"><circle cx="2554" cy="897" r="20"/><text x="2560" y="897" font-size="23">Satisfied</text></g>
<g id="n-launching" class="node"><circle cx="2332" cy="961" r="52"/><text x="2332" y="955" font-size="45">Launching</text></g>
<g id="n-success" class="node"><circle cx="2450" cy="626" r="58"/><text x="2433" y="596" font-size="45">Success</text><text x="2437" y="659" font-size="44">or fail</text></g>
<g id="n-details" class="node"><circle cx="2582" cy="673" r="40"/><text x="2593" y="675" font-size="45">Details</text></g>
<g id="n-highquality" class="node"><circle cx="2433" cy="495" r="39"/><text x="2445" y="489" font-size="39">High-quality</text></g>
<g id="n-experiments" class="node"><circle cx="2161" cy="597" r="59"/><text x="2162" y="596" font-size="44">Experiments</text></g>
<g id="n-request" class="node"><circle cx="2551" cy="290" r="33"/><text x="2557" y="286" font-size="39">Request</text></g>
<g id="n-external" class="node"><circle cx="2352" cy="177" r="30"/><text x="2356" y="172" font-size="31">External</text></g>
<g id="n-monthly" class="node"><circle cx="2287" cy="383" r="20"/><text x="2285" y="381" font-size="26">Monthly</text></g>
<g id="n-planned" class="node"><circle cx="2099" cy="355" r="22"/><text x="2100" y="354" font-size="25">Planned</text></g>
<g id="n-proper" class="node"><circle cx="2203" cy="85" r="15"/><text x="2200" y="85" font-size="24">proper</text></g>
<g id="n-usage" class="node"><circle cx="1779" cy="529" r="59"/><text x="1773" y="528" font-size="45">Usage</text></g>
<g id="n-appropriate" class="node"><circle cx="1840" cy="255" r="35"/><text x="1850" y="251" font-size="31">Appropriate</text></g>
<g id="n-faulty" class="node"><circle cx="1769" cy="120" r="16"/><text x="1773" y="122" font-size="24">Faulty</text></g>
<g id="n-duration" class="node"><circle cx="1352" cy="173" r="16"/><text x="1358" y="174" font-size="25">Duration</text></g>
<g id="n-cooperation" class="node"><circle cx="935" cy="146" r="19"/><text x="937" y="152" font-size="25">Cooperation</text></g>
<g id="n-assigned" class="node"><circle cx="1232" cy="381" r="39"/><text x="1230" y="383" font-size="40">Assigned</text></g>
<g id="n-rules" class="node"><circle cx="620" cy="345" r="32"/><text x="625" y="342" font-size="34">Rules</text></g>
<g id="n-environments" class="node"><circle cx="818" cy="311" r="29"/><text x="831" y="311" font-size="31">Environments</text></g>
<g id="n-stressed" class="node"><circle cx="841" cy="596" r="37"/><text x="840" y="593" font-size="39">Stressed</text></g>
<g id="n-provision" class="node"><circle cx="553" cy="570" r="27"/><text x="553" y="565" font-size="25">Provision</text></g>
<g id="n-accidents" class="node"><circle cx="368" cy="625" r="36"/><text x="352" y="620" font-size="41">Accidents</text></g>
<g id="n-fire" class="node"><circle cx="37" cy="928" r="25"/><text x="33" y="926" font-size="26">Fire</text></g>
<g id="n-safety" class="node"><circle cx="530" cy="920" r="67"/><text x="528" y="918" font-size="59">Safety</text></g>
<g id="n-defects" class="node"><circle cx="675" cy="882" r="33"/><text x="677" y="882" font-size="31">Defects</text></g>
<g id="n-proactive-l" class="node"><circle cx="435" cy="1171" r="59"/><text x="433" y="1164" font-size="48">Proactive</text></g>
<g id="n-safety-education" class="node"><circle cx="309" cy="1283" r="24"/><text x="317" y="1281" font-size="24">Safety Education</text></g>
<g id="n-alternative" class="node"><circle cx="818" cy="1180" r="46"/><text x="815" y="1178" font-size="44">Alternative</text></g>
<g id="n-execution" class="node"><circle cx="1144" cy="1116" r="59"/><text x="1136" y="1110" font-size="44">Execution</text></g>
<g id="n-efforts" class="node"><circle cx="1113" cy="1370" r="52"/><text x="1116" y="1374" font-size="46">Efforts</text></g>
<g id="n-perfect" class="node"><circle cx="619" cy="1611" r="57"/><text x="608" y="1614" font-size="49">Perfect</text></g>
<g id="n-noise" class="node"><circle cx="318" cy="1666" r="45"/><text x="313" y="1662" font-size="41">Noise</text></g>
<g id="n-guidance" class="node"><circle cx="385" cy="1807" r="23"/><text x="387" y="1804" font-size="26">Guidance</text></g>
<g id="n-civil-appeal" class="node"><circle cx="184" cy="1951" r="38"/><text x="179" y="1951" font-size="38">Civil Appeal</text></g>
<g id="n-fine-dust" class="node"><circle cx="254" cy="2211" r="39"/><text x="254" y="2210" font-size="39">Fine Dust</text></g>
<g id="n-resident" class="node"><circle cx="476" cy="2315" r="32"/><text x="475" y="2306" font-size="31">Resident</text></g>
<g id="n-supplementing" class="node"><circle cx="863" cy="2557" r="20"/><text x="863" y="2571" font-size="25">Supplementing</text></g>
</g>
</svg>
